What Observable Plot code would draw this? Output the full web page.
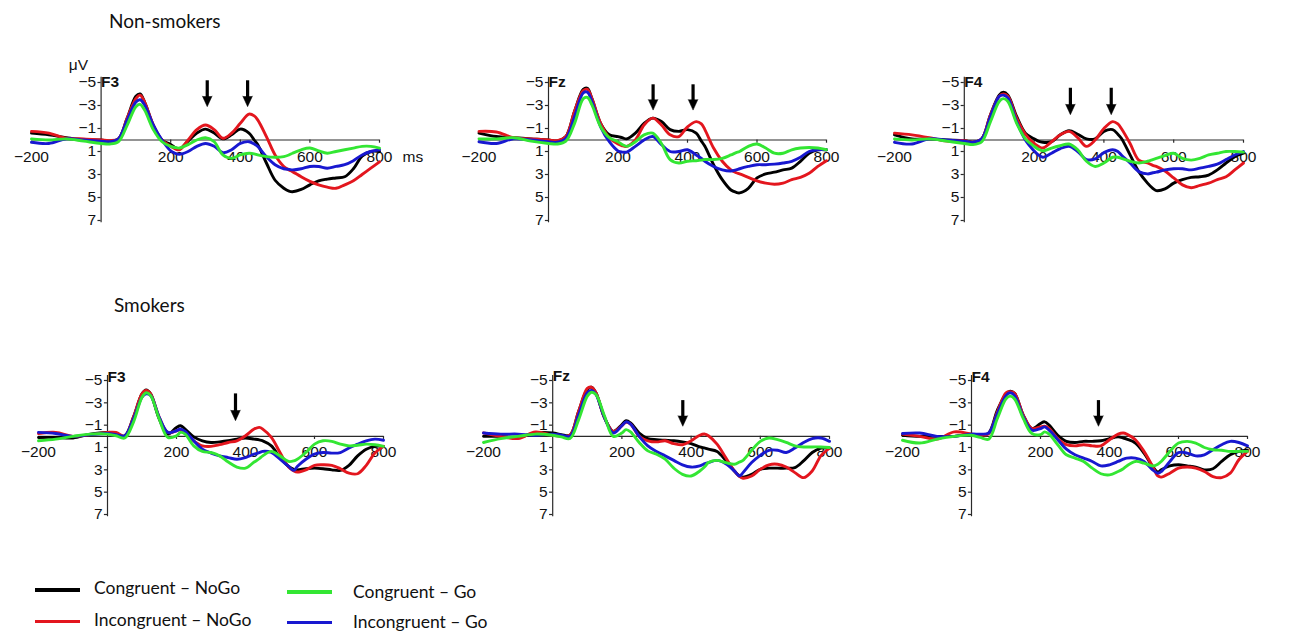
<!DOCTYPE html>
<html><head><meta charset="utf-8">
<script src="https://cdn.jsdelivr.net/npm/d3@7"></script>
<script src="https://cdn.jsdelivr.net/npm/@observablehq/plot@0.6"></script>
<style>
body{margin:0;background:#fff;}
#root{position:relative;width:1300px;height:637px;overflow:hidden;background:#fff;font-family:Lato,"Open Sans",sans-serif;color:#111;}
.panel{position:absolute;}
.title{position:absolute;font-size:19px;line-height:1;white-space:nowrap;}
.leg{position:absolute;font-size:17.5px;line-height:1;white-space:nowrap;}
.sw{position:absolute;height:3.5px;width:45px;}
</style></head><body><div id="root"></div>
<script>
// ---- data ----
const times = [-200,-150,-100,-50,0,25,50,75,100,112,125,150,175,200,212,225,250,275,300,325,350,375,400,425,440,450,475,500,525,540,550,575,600,625,650,675,700,725,750,775,800];
const conditions = ["Congruent – NoGo","Incongruent – NoGo","Congruent – Go","Incongruent – Go"];
const colors = ["#000000","#e3161e","#33e633","#1818d0"];
const yTicks = [-5,-3,-1,1,3,5,7];
const xTicks = [-200,200,400,600,800];
const xTickMarks = [200,400,600,800];

// Non-smokers F3
const nsF3_cNoGo = [-0.6,-0.45,-0.2,0,0,0.1,-0.1,-1.9,-3.8,-4.0,-3.3,-1.3,0,0.4,0.65,0.8,0.1,-0.6,-0.95,-0.6,-0.1,-0.45,-0.95,-0.6,0.0,0.4,2.0,3.5,4.2,4.45,4.5,4.3,3.9,3.55,3.4,3.3,3.2,2.5,1.4,1.0,1.0];
const nsF3_iNoGo = [-0.75,-0.6,-0.15,-0.1,0,0.05,-0.1,-1.9,-3.6,-3.9,-3.3,-1.3,0,0.55,0.75,0.85,0,-0.9,-1.3,-0.9,-0.15,-0.6,-1.45,-2.25,-2.1,-1.75,-0.3,1.3,2.3,2.6,2.75,3.2,3.6,3.9,4.1,4.2,3.9,3.55,3.0,2.45,1.9];
const nsF3_cGo   = [-0.1,0,-0.1,0.1,0.3,0.35,0.15,-1.3,-2.9,-3.1,-2.6,-0.9,0.15,0.55,0.65,0.7,0.4,0,-0.2,0.15,1.3,1.6,1.3,1.15,1.2,1.3,1.45,1.5,1.45,1.3,1.15,0.85,0.7,0.95,1.15,1.0,0.85,0.7,0.55,0.55,0.7];
const nsF3_iGo   = [0.2,0.3,-0.1,0,0.1,0.15,-0.1,-1.75,-3.3,-3.5,-3.05,-1.3,0,0.95,1.15,1.25,1.0,0.55,0.3,0.55,1.1,0.85,0.3,0.15,0.35,0.55,1.45,2.15,2.5,2.55,2.6,2.5,2.3,2.3,2.45,2.3,2.15,1.8,1.3,1.0,0.85];
// Non-smokers Fz
const nsFz_cNoGo = [-0.6,-0.3,-0.2,-0.1,0,0.1,-0.3,-2.5,-4.4,-4.5,-3.6,-1.45,-0.45,-0.3,-0.2,-0.1,-0.6,-1.45,-1.9,-1.6,-0.9,-0.75,-0.9,-0.6,0.1,0.55,2.15,3.45,4.35,4.55,4.6,4.2,3.3,2.95,2.8,2.6,2.45,1.85,1.15,0.85,0.85];
const nsFz_iNoGo = [-0.75,-0.7,-0.2,-0.1,0,0.05,-0.3,-2.5,-4.3,-4.4,-3.6,-1.45,-0.2,0.35,0.5,0.55,0,-1.3,-1.9,-1.3,-0.45,-0.3,-1.15,-1.6,-1.4,-0.9,0.7,1.85,2.6,2.85,2.95,3.25,3.55,3.75,3.85,3.75,3.45,3.25,2.9,2.3,1.8];
const nsFz_cGo   = [-0.1,-0.1,-0.2,0.1,0.3,0.35,0.1,-1.45,-3.6,-3.7,-3.05,-1.15,-0.2,0.15,0.4,0.55,0.15,-0.45,-0.6,0.3,1.7,2.0,1.85,1.8,1.75,1.7,1.7,1.6,1.3,1.1,1.0,0.55,0.35,0.7,1.15,1.15,0.85,0.7,0.65,0.7,0.85];
const nsFz_iGo   = [0.15,0.3,-0.1,0,0.15,0.2,-0.15,-2.05,-4.1,-4.15,-3.35,-1.15,0.15,0.95,1.05,1.05,0.55,0,-0.3,0.4,1.0,1.0,0.85,1.3,1.6,1.85,2.3,2.6,2.7,2.6,2.5,2.3,2.15,2.15,2.1,2.0,1.85,1.5,1.0,0.85,0.85];
// Non-smokers F4
const nsF4_cNoGo = [-0.45,-0.1,-0.1,0,0.05,0.2,-0.1,-2.2,-3.9,-4.15,-3.9,-2.05,-0.6,-0.1,0.1,0.2,0.15,-0.45,-0.8,-0.5,-0.1,-0.1,-0.75,-0.9,-0.5,-0.15,1.3,2.75,3.75,4.2,4.4,4.25,3.75,3.45,3.25,3.2,3.05,2.6,2.0,1.45,1.15];
const nsF4_iNoGo = [-0.6,-0.45,-0.2,0.1,0.05,0.2,-0.1,-2.2,-3.8,-4.0,-3.8,-1.9,-0.5,0.3,0.55,0.7,0.15,-0.45,-0.75,-0.2,0.55,0,-1.0,-1.6,-1.4,-1.0,0.3,1.75,2.0,2.2,2.3,2.7,3.3,3.9,4.15,3.95,3.75,3.45,3.2,2.6,2.0];
const nsF4_cGo   = [-0.1,0,-0.1,0.1,0.3,0.4,0.15,-1.6,-3.35,-3.6,-3.35,-1.45,-0.1,0.55,0.8,0.95,0.7,0.5,0.35,0.85,1.85,2.3,2.0,1.5,1.5,1.6,1.85,2.0,1.85,1.7,1.6,1.35,1.15,1.6,1.75,1.6,1.3,1.15,1.0,1.0,1.05];
const nsF4_iGo   = [0.2,0.35,-0.1,0,0.1,0.2,-0.1,-2.05,-3.8,-3.9,-3.65,-1.6,0,0.95,1.3,1.5,1.15,0.75,0.55,1.0,1.7,1.65,1.1,0.85,1.0,1.3,2.0,2.75,2.95,2.85,2.8,2.6,2.5,2.5,2.6,2.45,2.3,2.1,1.7,1.3,1.0];
// Smokers F3
const sF3_cNoGo = [0.1,0.1,0.15,-0.2,-0.35,-0.2,-0.05,-1.7,-3.8,-4.15,-3.8,-1.55,-0.2,-0.8,-0.95,-0.65,0.05,0.4,0.55,0.5,0.4,0.25,0.15,0.25,0.32,0.4,0.85,1.9,2.7,2.95,3.0,2.9,2.85,2.9,3.0,3.05,2.6,1.75,1.15,0.9,0.9];
const sF3_iNoGo = [-0.25,-0.35,0,-0.15,-0.35,-0.35,0,-1.7,-3.8,-4.1,-3.8,-1.7,-0.35,-0.5,-0.6,-0.35,0.4,0.85,0.9,0.75,0.55,0.4,-0.05,-0.65,-0.8,-0.65,0.1,1.45,2.75,3.1,3.2,3.0,2.6,2.55,2.6,2.9,3.3,3.35,2.6,1.5,0.9];
const sF3_cGo   = [0.4,0.25,0,-0.2,-0.2,-0.05,0.15,-1.25,-3.5,-3.9,-3.65,-1.55,0.1,-0.05,-0.35,-0.2,0.85,1.35,1.45,1.75,2.3,2.75,2.85,2.3,2.0,1.75,1.35,1.75,2.25,2.2,2.05,1.45,0.7,0.4,0.45,0.7,0.85,0.8,0.7,0.75,0.9];
const sF3_iGo   = [-0.35,-0.25,0,-0.15,-0.25,-0.15,-0.05,-1.55,-3.5,-3.8,-3.65,-1.7,-0.35,-0.5,-0.65,-0.45,0.4,1.15,1.5,1.75,1.9,2.05,1.9,1.6,1.45,1.35,1.45,2.05,2.7,3.05,2.7,2.05,1.6,1.45,1.5,1.45,1.05,0.7,0.4,0.25,0.35];
// Smokers Fz
const sFz_cNoGo = [0,0,0.1,-0.3,-0.3,-0.15,-0.1,-2.25,-4.2,-4.4,-3.9,-1.65,-0.45,-1.05,-1.4,-1.2,-0.3,0.2,0.3,0.35,0.4,0.5,0.65,0.95,1.05,1.15,1.35,2.15,3.1,3.55,3.65,3.4,2.95,2.85,2.85,2.85,2.8,2.2,1.45,1.05,1.05];
const sFz_iNoGo = [-0.3,0,0.2,-0.4,-0.1,0,-0.1,-2.25,-4.3,-4.4,-3.9,-1.65,-0.45,-0.95,-1.25,-1.1,0,0.4,0.5,0.4,0.65,0.75,0.4,-0.1,-0.2,-0.05,0.7,1.9,3.1,3.6,3.75,3.55,2.95,2.55,2.5,2.75,3.25,3.7,3.1,1.75,1.05];
const sFz_cGo   = [0.55,0.2,0,-0.2,-0.1,0.05,0.2,-1.5,-3.6,-3.95,-3.75,-1.8,0,-0.3,-0.6,-0.4,0.55,1.3,1.6,2.05,2.85,3.4,3.55,3.1,2.7,2.35,2.15,2.35,2.5,2.3,2.15,1.25,0.45,0.15,0.3,0.55,0.85,0.95,0.95,0.95,1.0];
const sFz_iGo   = [-0.3,-0.2,-0.2,-0.1,-0.2,-0.1,0,-1.95,-3.9,-4.1,-3.75,-1.65,-0.3,-0.95,-1.3,-1.1,0,0.85,1.35,1.75,2.15,2.55,2.75,2.65,2.45,2.35,2.15,2.45,3.1,3.55,3.25,2.35,1.7,1.25,1.25,1.45,1.05,0.55,0.2,0.15,0.45];
// Smokers F4
const sF4_cNoGo = [-0.1,0,0,0,-0.2,-0.1,-0.3,-2.35,-3.8,-4.05,-3.85,-1.9,-0.7,-1.15,-1.3,-1.0,-0.1,0.45,0.55,0.45,0.45,0.4,0.2,0.05,0.15,0.25,0.6,1.5,2.7,3.2,3.0,2.65,2.55,2.65,2.75,3.0,2.9,2.25,1.65,1.35,1.25];
const sF4_iNoGo = [-0.2,0,0.25,-0.4,-0.2,-0.1,-0.25,-2.2,-3.9,-4.0,-3.85,-1.9,-0.7,-0.85,-0.9,-0.7,0.2,0.75,0.85,0.75,0.85,0.85,0.3,-0.2,-0.3,-0.2,0.3,1.35,2.7,3.55,3.65,3.3,2.85,2.75,2.85,3.15,3.6,3.7,3.3,2.1,1.35];
const sF4_cGo   = [0.35,0.6,0.25,0,-0.1,0.1,0.25,-1.6,-3.35,-3.6,-3.35,-1.6,-0.25,-0.15,-0.4,-0.2,0.75,1.65,1.95,2.25,2.85,3.35,3.45,3.15,2.9,2.65,2.25,2.4,2.65,2.5,2.25,1.35,0.6,0.45,0.6,1.0,1.2,1.25,1.35,1.35,1.35];
const sF4_iGo   = [-0.25,-0.3,0,0,-0.2,-0.2,-0.3,-2.05,-3.65,-3.9,-3.65,-1.75,-0.55,-0.7,-0.85,-0.55,0.3,1.15,1.65,1.95,2.25,2.65,2.55,2.25,2.05,1.95,1.95,2.25,3.0,3.3,3.15,2.25,1.45,1.5,1.75,1.65,1.2,0.75,0.45,0.55,0.85];

// arrow annotation times (ms)
const arrowsNS_F3 = [305, 421];
const arrowsNS_Fz = [301, 416];
const arrowsNS_F4 = [304, 421];
const arrowsS_F3 = [371];
const arrowsS_Fz = [376];
const arrowsS_F4 = [368];

// ---- layout ----
const drawOrder = [0, 1, 3, 2];
const fmt = d => d < 0 ? "\u2212" + Math.abs(d) : String(d);

const panels = [
  {name:"F3", series:[nsF3_cNoGo,nsF3_iNoGo,nsF3_cGo,nsF3_iGo], arrows:arrowsNS_F3, left:0,   top:40,  xr:[31,379],   yr:[42,180], nameY:-5.0, aTop:-5.15, aTip:-2.9, units:true},
  {name:"Fz", series:[nsFz_cNoGo,nsFz_iNoGo,nsFz_cGo,nsFz_iGo], arrows:arrowsNS_Fz, left:430, top:40,  xr:[48.5,396], yr:[42,180], nameY:-5.0, aTop:-4.8,  aTip:-2.6},
  {name:"F4", series:[nsF4_cNoGo,nsF4_iNoGo,nsF4_cGo,nsF4_iGo], arrows:arrowsNS_F4, left:860, top:40,  xr:[34,383],   yr:[42,180], nameY:-5.0, aTop:-4.5,  aTip:-2.2},
  {name:"F3", series:[sF3_cNoGo,sF3_iNoGo,sF3_cGo,sF3_iGo],     arrows:arrowsS_F3,  left:0,   top:340, xr:[38,383],   yr:[40,174], nameY:-5.3, aTop:-3.8,  aTip:-1.4},
  {name:"Fz", series:[sFz_cNoGo,sFz_iNoGo,sFz_cGo,sFz_iGo],     arrows:arrowsS_Fz,  left:430, top:340, xr:[53,399],   yr:[40,174], nameY:-5.4, aTop:-3.2,  aTip:-0.9},
  {name:"F4", series:[sF4_cNoGo,sF4_iNoGo,sF4_cGo,sF4_iGo],     arrows:arrowsS_F4,  left:860, top:340, xr:[42,387],   yr:[40,174], nameY:-5.3, aTop:-3.2,  aTip:-0.9}
];

const root = document.getElementById("root");

function panelPlot(p) {
  const rows = [];
  drawOrder.forEach(ci => p.series[ci].forEach((v, i) => rows.push({t: times[i], v, cond: conditions[ci]})));
  const axisColor = "#2a2a2a";
  const marks = [
    Plot.ruleY([0], {x1: -200, x2: 800, stroke: axisColor, strokeWidth: 1.2}),
    Plot.ruleX(xTickMarks, {x: d => d, y1: 0, y2: 0.28, stroke: axisColor, strokeWidth: 1.2}),
    Plot.ruleX([0], {y1: -5.45, y2: 7.2, stroke: axisColor, strokeWidth: 1.2}),
    Plot.ruleY(yTicks, {y: d => d, x1: -9, x2: 0, stroke: axisColor, strokeWidth: 1.2}),
    Plot.text(yTicks, {x: 0, y: d => d, text: d => fmt(d), textAnchor: "end", dx: -5, fontSize: 15.5, fill: "#111"}),
    Plot.text(xTicks, {x: d => d, y: 1.45, text: d => fmt(d), fontSize: 15.5, fill: "#111"}),
    Plot.text([p.name], {x: 0, y: p.nameY, text: d => d, textAnchor: "start", dx: 0, fontWeight: "bold", fontSize: 15.5, fill: "#111"}),
  ];
  if (p.units) {
    marks.push(Plot.text(["μV"], {x: 0, y: -6.5, text: d => d, textAnchor: "end", dx: -13, fontSize: 15.5, fill: "#111"}));
    marks.push(Plot.text(["ms"], {x: 800, y: 1.45, text: d => d, textAnchor: "start", dx: 23, fontSize: 15.5, fill: "#111"}));
  }
  marks.push(Plot.line(rows, {x: "t", y: "v", z: "cond", stroke: "cond", curve: "catmull-rom", strokeWidth: 2.9, strokeLinejoin: "round"}));
  marks.push(Plot.ruleX(p.arrows, {x: d => d, y1: p.aTop, y2: p.aTip - 0.5, stroke: "#000", strokeWidth: 3.2}));
  marks.push(Plot.vector(p.arrows, {x: d => d, y: p.aTip, length: 10.5, rotate: 180, shape: "spike", r: 4.8, anchor: "end", fill: "#000", stroke: "#000", strokeWidth: 0.5}));
  return Plot.plot({
    width: 430, height: 200,
    marginLeft: 0, marginRight: 0, marginTop: 0, marginBottom: 0,
    x: {domain: [-200, 800], range: p.xr, axis: null},
    y: {domain: [-5, 7], range: p.yr, axis: null},
    color: {domain: conditions, range: colors},
    style: {background: "transparent", fontFamily: "'Liberation Sans', Arial, sans-serif", fontSize: "15px", overflow: "visible"},
    marks
  });
}

panels.forEach(p => {
  const div = document.createElement("div");
  div.className = "panel";
  div.style.left = p.left + "px";
  div.style.top = p.top + "px";
  div.appendChild(panelPlot(p));
  root.appendChild(div);
});

// titles
[["Non-smokers", 109, 11], ["Smokers", 114, 295]].forEach(([t, x, y]) => {
  const d = document.createElement("div");
  d.className = "title"; d.textContent = t;
  d.style.left = x + "px"; d.style.top = y + "px";
  root.appendChild(d);
});

// legend
const legendPos = [
  {sx: 35, sy: 588, tx: 94, ty: 579},
  {sx: 35, sy: 619.5, tx: 94, ty: 611},
  {sx: 287, sy: 590, tx: 353, ty: 583},
  {sx: 287, sy: 620.5, tx: 353, ty: 613}
];
conditions.forEach((c, i) => {
  const lp = legendPos[i];
  const s = document.createElement("div");
  s.className = "sw"; s.style.background = colors[i];
  s.style.left = lp.sx + "px"; s.style.top = lp.sy + "px";
  root.appendChild(s);
  const t = document.createElement("div");
  t.className = "leg"; t.textContent = c;
  t.style.left = lp.tx + "px"; t.style.top = lp.ty + "px";
  root.appendChild(t);
});
</script>
</body></html>
